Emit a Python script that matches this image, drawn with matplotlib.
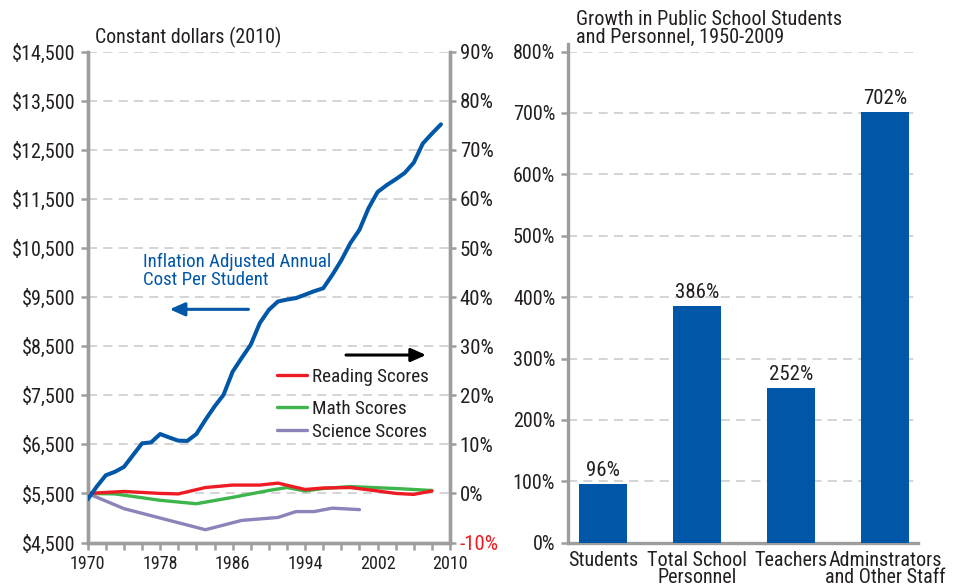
import matplotlib
matplotlib.use("Agg")
import matplotlib.pyplot as plt
from matplotlib.legend import Legend
from matplotlib.ticker import FuncFormatter, MultipleLocator, FixedLocator

# ---------------- data ----------------
cost_years = list(range(1970, 2010))
cost_per_student = [5380, 5640, 5870, 5940, 6040, 6280, 6520, 6540, 6710, 6640,
                    6575, 6570, 6710, 7000, 7270, 7510, 7980, 8260, 8530, 8970,
                    9240, 9410, 9450, 9480, 9550, 9620, 9680, 9950, 10250, 10600,
                    10870, 11310, 11640, 11780, 11900, 12030, 12240, 12630, 12830, 13020]

reading_years = [1970, 1974, 1978, 1980, 1983, 1986, 1989, 1991, 1994, 1996, 1999, 2002, 2004, 2006, 2008]
reading_pct = [0, 0.4, 0.0, -0.1, 1.2, 1.7, 1.7, 2.1, 0.8, 1.1, 1.2, 0.5, 0.0, -0.2, 0.5]

math_years = [1970, 1973, 1978, 1982, 1986, 1990, 1992, 1994, 1996, 1999, 2004, 2008]
math_pct = [0, -0.1, -1.4, -2.1, -0.8, 0.6, 1.2, 0.5, 1.0, 1.4, 1.0, 0.6]

science_years = [1970, 1974, 1983, 1987, 1991, 1993, 1995, 1997, 2000]
science_pct = [0, -3.1, -7.4, -5.5, -4.9, -3.7, -3.7, -3.0, -3.3]

cost_ticks = list(range(4500, 14501, 1000))
pct_ticks = list(range(-10, 91, 10))
year_labels = [1970, 1978, 1986, 1994, 2002, 2010]

bar_categories = ["Students", "Total School\nPersonnel", "Teachers", "Adminstrators\nand Other Staff"]
bar_values = [96, 386, 252, 702]
bar_ticks = list(range(0, 801, 100))

# ---------------- style ----------------
FONT = ["Roboto Condensed", "Liberation Sans", "DejaVu Sans"]
TXT = "#231f20"
GRAY = "#9d9d9d"
GRID = "#c9c9c9"
BLUE = "#0057a8"
RED = "#ed1c24"
GREEN = "#3db54a"
PURPLE = "#8a84ba"

plt.rcParams["font.family"] = FONT

fig = plt.figure(figsize=(9.55, 5.88), dpi=100)

# ---------------- left panel ----------------
ax = fig.add_axes([87.7 / 955, 1 - 542.5 / 588, 362.3 / 955, 490.8 / 588])
ax2 = ax.twinx()
ax.set_zorder(ax2.get_zorder() + 1)
ax.patch.set_visible(False)

ax.set_xlim(1970, 2010)
ax.set_ylim(4500, 14500)
ax2.set_ylim(-10, 90)

ax.plot(cost_years, cost_per_student, color=BLUE, lw=2.9, solid_capstyle="round", zorder=5)
l_read, = ax2.plot(reading_years, reading_pct, color=RED, lw=2.4, solid_capstyle="round", zorder=4)
l_math, = ax2.plot(math_years, math_pct, color=GREEN, lw=2.4, solid_capstyle="round", zorder=3)
l_sci, = ax2.plot(science_years, science_pct, color=PURPLE, lw=2.4, solid_capstyle="round", zorder=3)

ax2.yaxis.set_major_locator(FixedLocator(pct_ticks))
ax2.grid(axis="y", color=GRID, lw=1.1, linestyle=(0, (6, 4)), zorder=0)
ax2.set_axisbelow(True)
ax.yaxis.set_major_locator(FixedLocator(cost_ticks))
ax.yaxis.set_major_formatter(FuncFormatter(lambda v, p: f"${v:,.0f}"))
ax2.yaxis.set_major_formatter(FuncFormatter(lambda v, p: f"{v:.0f}%"))

ax.xaxis.set_major_locator(FixedLocator(year_labels))
ax.xaxis.set_minor_locator(MultipleLocator(2))

for a in (ax, ax2):
    for s in a.spines.values():
        s.set_color(GRAY)
        s.set_linewidth(2.4)
    a.spines["top"].set_visible(False)

ax.tick_params(axis="y", which="major", length=5, width=1.8, color=GRAY, pad=4,
               labelsize=14.5, labelcolor=TXT)
ax2.tick_params(axis="y", which="major", length=4, width=1.8, color=GRAY, pad=3,
                labelsize=15, labelcolor=TXT)
ax.tick_params(axis="x", which="both", length=5, width=1.8, color=GRAY, pad=4,
               labelsize=13, labelcolor=TXT)
ax2.get_yticklabels()[0].set_color(RED)

ax.text(0.02, 1.028, "Constant dollars (2010)", transform=ax.transAxes,
        ha="left", va="center", fontsize=14.4, color=TXT)

# annotation for cost line
ax.text(0.1526, 0.5528, "Inflation Adjusted Annual\nCost Per Student", transform=ax.transAxes,
        ha="left", va="center", fontsize=13.6, color=BLUE, linespacing=1.0)
ax.annotate("", xy=(0.2262, 0.4751), xytext=(0.4437, 0.4751), xycoords="axes fraction",
            arrowprops=dict(arrowstyle="-|>,head_length=0.9,head_width=0.4", color=BLUE, lw=2.2,
                            shrinkA=0, shrinkB=0))
ax.annotate("", xy=(0.9340, 0.382), xytext=(0.7130, 0.382), xycoords="axes fraction",
            arrowprops=dict(arrowstyle="-|>,head_length=0.9,head_width=0.4", color="black", lw=2.2,
                            shrinkA=0, shrinkB=0))

# legend entries (separate rows as in the original)
for line, label, yf in [(l_read, "Reading Scores", (542.5 - 377) / 490.8),
                        (l_math, "Math Scores", (542.5 - 409) / 490.8),
                        (l_sci, "Science Scores", (542.5 - 432) / 490.8)]:
    leg = Legend(ax, [line], [label], loc="center left", bbox_to_anchor=(0.5217, yf),
                 frameon=False, borderpad=0, borderaxespad=0, handlelength=1.6,
                 handletextpad=0.25, prop={"family": FONT, "size": 13.8})
    for t in leg.get_texts():
        t.set_color(TXT)
    ax.add_artist(leg)

# ---------------- right panel ----------------
axb = fig.add_axes([567.7 / 955, 1 - 542.7 / 588, 350 / 955, 491.2 / 588])
xpos = list(range(len(bar_categories)))
axb.bar(xpos, bar_values, width=0.51, color=BLUE, zorder=3)
axb.set_xlim(-0.376, 3.348)
axb.set_ylim(0, 800)
axb.yaxis.set_major_locator(FixedLocator(bar_ticks))
axb.yaxis.set_major_formatter(FuncFormatter(lambda v, p: f"{v:.0f}%"))
axb.grid(axis="y", color=GRID, lw=1.1, linestyle=(0, (6, 4)), zorder=0)
axb.set_axisbelow(True)
for s in ["top", "right"]:
    axb.spines[s].set_visible(False)
for s in ["left", "bottom"]:
    axb.spines[s].set_color(GRAY)
    axb.spines[s].set_linewidth(2.4)
axb.spines["left"].set_bounds(0, 812)
axb.tick_params(axis="y", length=5, width=1.8, color=GRAY, pad=4, labelsize=14.5, labelcolor=TXT)
axb.set_xticks(xpos)
axb.set_xticklabels(bar_categories, fontsize=14.5, color=TXT, linespacing=0.85, va="top")
axb.tick_params(axis="x", length=0, pad=6)

for x, v in zip(xpos, bar_values):
    axb.annotate(f"{v}%", xy=(x, v), xytext=(0, 3), textcoords="offset points",
                 ha="center", va="bottom", fontsize=15, color=TXT)

axb.text(0.0237, 1.0468, "Growth in Public School Students\nand Personnel, 1950-2009",
         transform=axb.transAxes, ha="left", va="center", fontsize=14.6, color=TXT,
         linespacing=0.88)
axb.set_clip_on(False)
axb.spines["left"].set_clip_on(False)

fig.savefig("out.png", dpi=100)
